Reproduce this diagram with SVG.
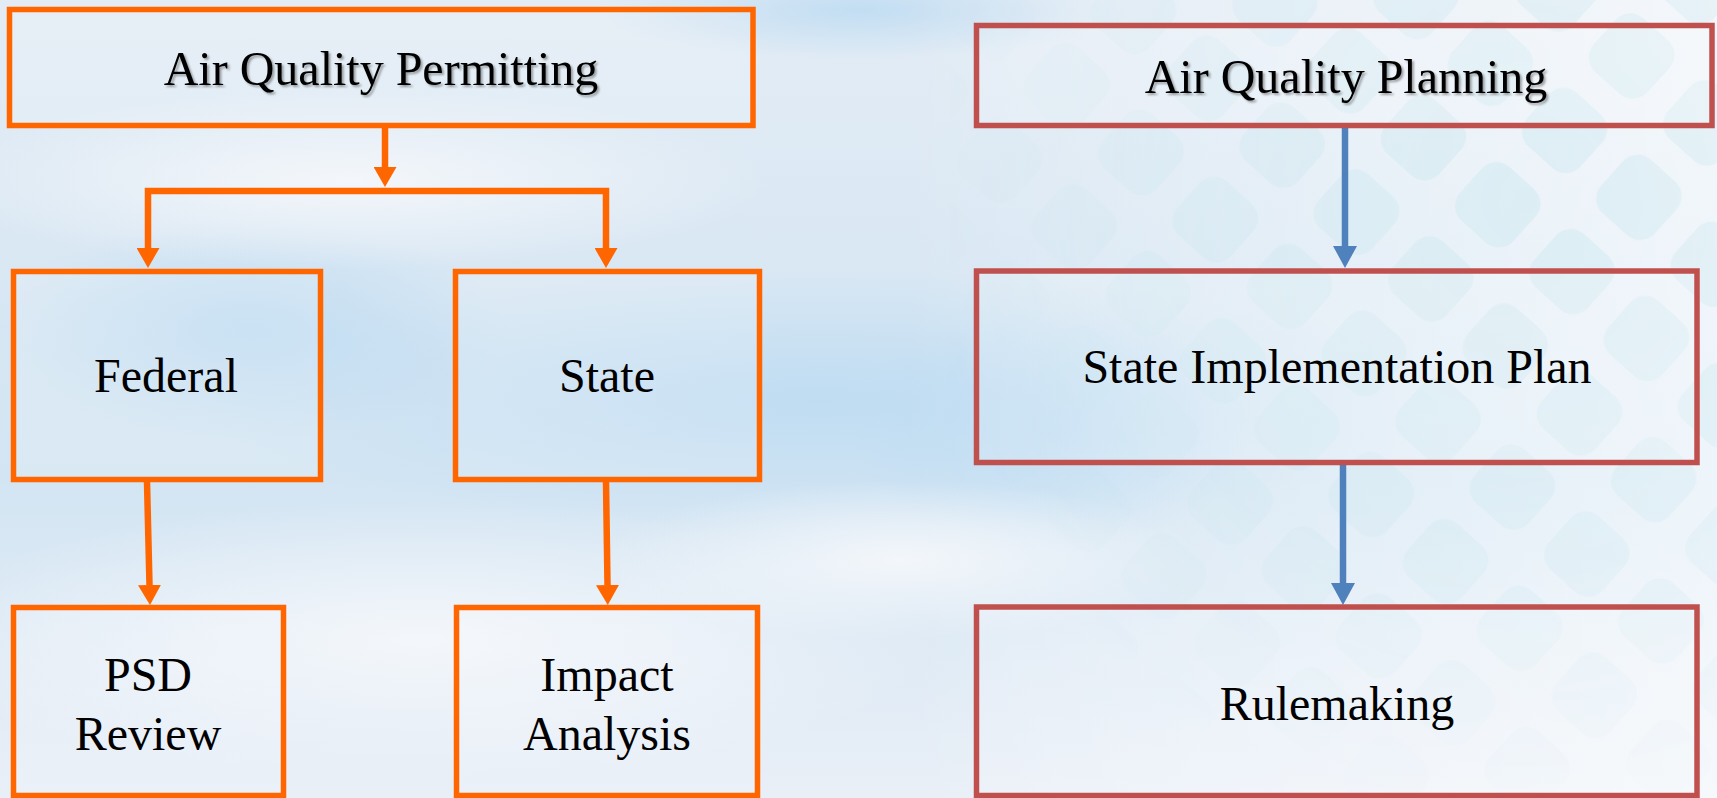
<svg xmlns="http://www.w3.org/2000/svg" width="1717" height="798" viewBox="0 0 1717 798">
  <style>
    .ob { fill: #ffffff; fill-opacity: 0.15; stroke: #FF6600; stroke-width: 5.5; }
    .rb { fill: #ffffff; fill-opacity: 0.15; stroke: #C0504D; stroke-width: 5.5; }
    .lbl { font-family: "Liberation Serif", "Times New Roman", serif; font-size: 48px; fill: #000000; text-anchor: middle; }
    .oc { fill: none; stroke: #FF6600; stroke-width: 6.5; stroke-linejoin: miter; }
    .bc { fill: none; stroke: #4F81BD; stroke-width: 6.5; }
  </style>
  <defs>
    <linearGradient id="sky" x1="0" y1="0" x2="0" y2="1">
      <stop offset="0" stop-color="#e3ecf5"/>
      <stop offset="0.45" stop-color="#d6e6f3"/>
      <stop offset="0.6" stop-color="#d3e5f3"/>
      <stop offset="1" stop-color="#e9eff7"/>
    </linearGradient>
    <radialGradient id="blue1" cx="0.5" cy="0.5" r="0.5">
      <stop offset="0" stop-color="#bcdbf2" stop-opacity="0.85"/>
      <stop offset="1" stop-color="#bcdbf2" stop-opacity="0"/>
    </radialGradient>
    <radialGradient id="white1" cx="0.5" cy="0.5" r="0.5">
      <stop offset="0" stop-color="#f6f8fb" stop-opacity="0.9"/>
      <stop offset="1" stop-color="#f6f8fb" stop-opacity="0"/>
    </radialGradient>
    <linearGradient id="rightFade" x1="0" y1="0" x2="1" y2="0">
      <stop offset="0" stop-color="#ffffff" stop-opacity="0"/>
      <stop offset="1" stop-color="#ffffff" stop-opacity="0.6"/>
    </linearGradient>
    <pattern id="diam" width="100" height="100" patternUnits="userSpaceOnUse" patternTransform="rotate(42)">
      <rect x="14" y="14" width="72" height="72" rx="20" fill="#c6e6ee"/>
    </pattern>
    <radialGradient id="diamMaskG" cx="0.75" cy="0.25" r="0.8">
      <stop offset="0" stop-color="#fff" stop-opacity="0.4"/>
      <stop offset="0.6" stop-color="#fff" stop-opacity="0.22"/>
      <stop offset="1" stop-color="#fff" stop-opacity="0"/>
    </radialGradient>
    <mask id="diamMask">
      <rect x="950" y="0" width="767" height="798" fill="url(#diamMaskG)"/>
    </mask>
    <filter id="tshadow" x="-5%" y="-20%" width="110%" height="150%">
      <feDropShadow dx="2" dy="2" stdDeviation="1.2" flood-color="#000000" flood-opacity="0.35"/>
    </filter>
    <marker id="ah" viewBox="0 0 20 23" refX="0" refY="11.5" markerWidth="20" markerHeight="23" markerUnits="userSpaceOnUse" orient="auto-start-reverse">
      <path d="M0,0 L20,11.5 L0,23 Z" fill="#FF6600"/>
    </marker>
    <marker id="ahb" viewBox="0 0 22 24" refX="0" refY="12" markerWidth="22" markerHeight="24" markerUnits="userSpaceOnUse" orient="auto">
      <path d="M0,0 L22,12 L0,24 Z" fill="#4F81BD"/>
    </marker>
  </defs>

  <g id="background">
    <rect x="0" y="0" width="1717" height="798" fill="url(#sky)"/>
    <ellipse cx="820" cy="400" rx="620" ry="130" fill="url(#blue1)"/>
    <ellipse cx="250" cy="330" rx="260" ry="110" fill="url(#blue1)"/>
    <ellipse cx="860" cy="10" rx="260" ry="50" fill="url(#blue1)"/>
    <ellipse cx="1050" cy="430" rx="200" ry="120" fill="url(#blue1)"/>
    <ellipse cx="350" cy="180" rx="420" ry="90" fill="url(#white1)"/>
    <ellipse cx="420" cy="640" rx="520" ry="140" fill="url(#white1)"/>
    <ellipse cx="900" cy="560" rx="300" ry="80" fill="url(#white1)"/>
    <rect x="900" y="0" width="817" height="798" fill="url(#rightFade)"/>
    <rect x="950" y="0" width="767" height="798" fill="url(#diam)" mask="url(#diamMask)"/>
  </g>

  <g id="connectors">
    <path class="oc" d="M385,128 V167" marker-end="url(#ah)"/>
    <path class="oc" d="M148,248 V191 H606 V248" marker-start="url(#ah)" marker-end="url(#ah)"/>
    <path class="oc" d="M147,482 L149.5,585" marker-end="url(#ah)"/>
    <path class="oc" d="M606,482 L607.5,585" marker-end="url(#ah)"/>
    <path class="bc" d="M1345,128 V246" marker-end="url(#ahb)"/>
    <path class="bc" d="M1343,465 V583" marker-end="url(#ahb)"/>
  </g>

  <g id="node-permitting">
    <rect class="ob" x="9.5" y="9.5" width="743.5" height="116"/>
    <text class="lbl" x="381" y="85" filter="url(#tshadow)">Air Quality Permitting</text>
  </g>
  <g id="node-federal">
    <rect class="ob" x="13.5" y="271.5" width="307" height="208"/>
    <text class="lbl" x="166" y="392">Federal</text>
  </g>
  <g id="node-state">
    <rect class="ob" x="455.5" y="271.5" width="304" height="208"/>
    <text class="lbl" x="607" y="392">State</text>
  </g>
  <g id="node-psd">
    <rect class="ob" x="13.5" y="607.5" width="270" height="188"/>
    <text class="lbl" x="148" y="691">PSD</text>
    <text class="lbl" x="148" y="750">Review</text>
  </g>
  <g id="node-impact">
    <rect class="ob" x="456.5" y="607.5" width="301" height="188"/>
    <text class="lbl" x="607" y="691">Impact</text>
    <text class="lbl" x="607" y="750">Analysis</text>
  </g>
  <g id="node-planning">
    <rect class="rb" x="976.5" y="25.5" width="735.5" height="100"/>
    <text class="lbl" x="1346" y="93" filter="url(#tshadow)">Air Quality Planning</text>
  </g>
  <g id="node-sip">
    <rect class="rb" x="976.5" y="271" width="720.5" height="191.5"/>
    <text class="lbl" x="1337" y="383">State Implementation Plan</text>
  </g>
  <g id="node-rulemaking">
    <rect class="rb" x="976.5" y="607" width="720.5" height="188.5"/>
    <text class="lbl" x="1337" y="720">Rulemaking</text>
  </g>
</svg>
